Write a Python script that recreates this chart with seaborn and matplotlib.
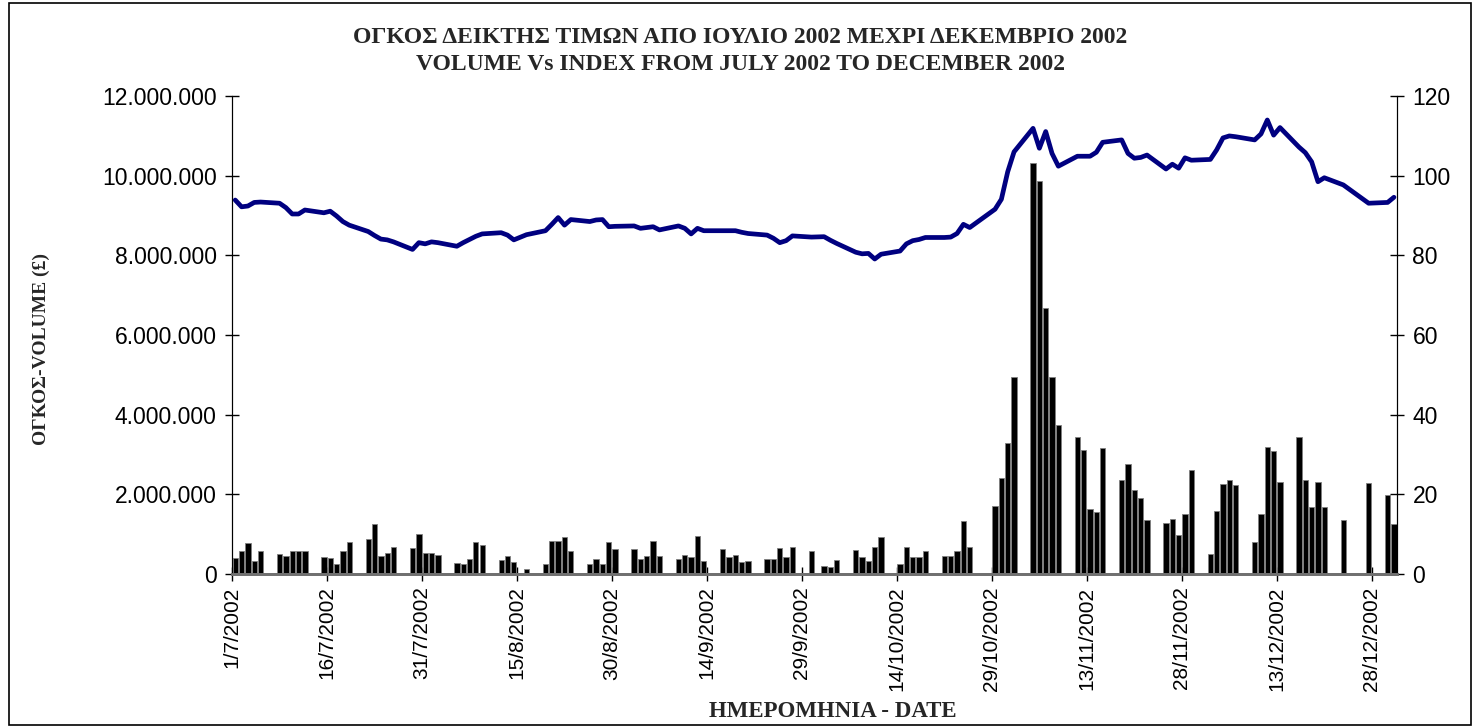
import matplotlib
matplotlib.use("Agg")
import matplotlib.pyplot as plt
import numpy as np
import pandas as pd
import seaborn as sns
from matplotlib.patches import Rectangle

TITLE_GR = "ΟΓΚΟΣ ΔΕΙΚΤΗΣ ΤΙΜΩΝ ΑΠΟ ΙΟΥΛΙΟ 2002 ΜΕΧΡΙ ΔΕΚΕΜΒΡΙΟ 2002"
TITLE_EN = "VOLUME Vs INDEX FROM JULY 2002 TO DECEMBER 2002"
Y_LABEL = "ΟΓΚΟΣ-VOLUME (£)"
X_LABEL = "ΗΜΕΡΟΜΗΝΙΑ - DATE"

# trading days (day/month, 2002)
dates = [
    "1/7", "2/7", "3/7", "4/7", "5/7", "8/7", "9/7", "10/7", "11/7", "12/7",
    "15/7", "16/7", "17/7", "18/7", "19/7", "22/7", "23/7", "24/7", "25/7", "26/7",
    "29/7", "30/7", "31/7", "1/8", "2/8", "5/8", "6/8", "7/8", "8/8", "9/8",
    "12/8", "13/8", "14/8", "16/8", "19/8", "20/8", "21/8", "22/8", "23/8",
    "26/8", "27/8", "28/8", "29/8", "30/8", "2/9", "3/9", "4/9", "5/9", "6/9",
    "9/9", "10/9", "11/9", "12/9", "13/9", "16/9", "17/9", "18/9", "19/9", "20/9",
    "23/9", "24/9", "25/9", "26/9", "27/9", "30/9", "2/10", "3/10", "4/10",
    "7/10", "8/10", "9/10", "10/10", "11/10", "14/10", "15/10", "16/10", "17/10", "18/10",
    "21/10", "22/10", "23/10", "24/10", "25/10", "29/10", "30/10", "31/10", "1/11",
    "4/11", "5/11", "6/11", "7/11", "8/11", "11/11", "12/11", "13/11", "14/11", "15/11",
    "18/11", "19/11", "20/11", "21/11", "22/11", "25/11", "26/11", "27/11", "28/11", "29/11",
    "2/12", "3/12", "4/12", "5/12", "6/12", "9/12", "10/12", "11/12", "12/12", "13/12",
    "16/12", "17/12", "18/12", "19/12", "20/12", "23/12", "27/12", "30/12", "31/12",
]

# volume in millions
volume_m = [
    0.39, 0.585, 0.77, 0.32, 0.585, 0.50, 0.445, 0.585, 0.585, 0.585,
    0.435, 0.41, 0.24, 0.585, 0.80, 0.87, 1.25, 0.45, 0.535, 0.68,
    0.66, 1.00, 0.52, 0.52, 0.47, 0.275, 0.26, 0.385, 0.80, 0.72,
    0.35, 0.445, 0.30, 0.13, 0.25, 0.83, 0.84, 0.92, 0.585,
    0.25, 0.37, 0.25, 0.80, 0.635, 0.62, 0.375, 0.445, 0.82, 0.445,
    0.37, 0.47, 0.42, 0.96, 0.33, 0.635, 0.42, 0.47, 0.30, 0.335,
    0.37, 0.37, 0.66, 0.435, 0.67, 0.58, 0.21, 0.17, 0.35,
    0.615, 0.435, 0.33, 0.68, 0.93, 0.24, 0.68, 0.435, 0.435, 0.585,
    0.445, 0.445, 0.58, 1.32, 0.67, 1.72, 2.41, 3.28, 4.94,
    10.33, 9.88, 6.67, 4.94, 3.73, 3.45, 3.105, 1.63, 1.55, 3.16,
    2.35, 2.77, 2.11, 1.90, 1.355, 1.28, 1.39, 0.97, 1.51, 2.61,
    0.50, 1.57, 2.27, 2.35, 2.235, 0.795, 1.50, 3.18, 3.09, 2.31,
    3.45, 2.35, 1.69, 2.30, 1.675, 1.355, 2.28, 1.98, 1.25,
]

index_vals = [
    93.9, 92.2, 92.4, 93.3, 93.4, 93.1, 92.0, 90.4, 90.4, 91.4,
    90.7, 91.1, 89.9, 88.5, 87.6, 86.0, 85.0, 84.1, 83.9, 83.4,
    81.5, 83.2, 82.9, 83.4, 83.2, 82.3, 83.2, 84.0, 84.8, 85.4,
    85.7, 85.1, 83.9, 85.2, 86.2, 87.8, 89.5, 87.6, 89.0,
    88.5, 88.9, 89.0, 87.2, 87.3, 87.4, 86.8, 87.0, 87.2, 86.4,
    87.4, 86.8, 85.4, 86.8, 86.2, 86.2, 86.2, 86.2, 85.8, 85.5,
    85.1, 84.3, 83.2, 83.7, 84.9, 84.6, 84.7, 83.8, 83.0,
    80.8, 80.4, 80.5, 79.1, 80.3, 81.1, 82.9, 83.7, 84.0, 84.5,
    84.5, 84.6, 85.5, 87.8, 87.0, 91.6, 94.1, 101.0, 106.0,
    111.9, 106.9, 111.1, 105.6, 102.4, 104.9, 104.9, 104.9, 105.9, 108.4,
    109.0, 105.6, 104.4, 104.6, 105.2, 101.7, 102.9, 101.9, 104.5, 103.9,
    104.1, 106.5, 109.5, 110.0, 109.8, 109.0, 110.5, 114.0, 110.2, 112.1,
    107.2, 105.8, 103.5, 98.5, 99.5, 97.7, 93.1, 93.3, 94.6,
]

start = pd.Timestamp("2002-07-01")
end = pd.Timestamp("2003-01-01")
tick_dates = pd.date_range(start, end, freq="15D")

df = pd.DataFrame({
    "date": pd.to_datetime([d + "/2002" for d in dates], format="%d/%m/%Y"),
    "volume": np.array(volume_m) * 1e6,
    "index": index_vals,
})
# day number from 1 July, bar centred in its day slot
df["day"] = (df["date"] - start).dt.days + 0.5

sns.set_style("white")
plt.rcParams["font.family"] = ["Liberation Sans", "DejaVu Sans"]

fig = plt.figure(figsize=(14.8, 7.28), dpi=100)
ax = fig.add_axes([0.1568, 0.2115, 0.7872, 0.6565])

sns.barplot(data=df, x="day", y="volume", native_scale=True, width=0.84,
            color="black", edgecolor="#808080", linewidth=0.6,
            errorbar=None, ax=ax)

ax2 = ax.twinx()
sns.lineplot(data=df, x="day", y="index", color="#000080", linewidth=3.4,
             ax=ax2)

span = (end - start).days
ax.set_xlim(0, span)
ax.set_ylim(0, 12_000_000)
ax2.set_ylim(0, 120)

ax.set_yticks(np.arange(0, 12_000_001, 2_000_000))
ax.set_yticklabels([f"{v:,.0f}".replace(",", ".") for v in ax.get_yticks()],
                   fontsize=16.5)
ax2.set_yticks(np.arange(0, 121, 20))
ax2.set_yticklabels([str(int(v)) for v in ax2.get_yticks()], fontsize=16.5)

tick_pos = [(t - start).days for t in tick_dates if t < end]
tick_lab = [f"{t.day}/{t.month}/{t.year}" for t in tick_dates if t < end]
ax.set_xticks(tick_pos)
ax.set_xticklabels(tick_lab, rotation=90, fontsize=15)

ax.set_xlabel("")
ax.set_ylabel("")
ax2.set_xlabel("")
ax2.set_ylabel("")

for a in (ax, ax2):
    a.tick_params(direction="inout", length=10, width=1, colors="black",
                  pad=6)
    a.spines["top"].set_visible(False)
    a.spines["left"].set_color("black")
    a.spines["right"].set_color("black")
    a.spines["bottom"].set_color("#707070")
    a.spines["bottom"].set_linewidth(2)
ax.tick_params(axis="x", length=10, pad=4)
ax.tick_params(left=True, bottom=True)
ax2.tick_params(right=True)

serif = ["Liberation Serif", "DejaVu Serif"]
fig.text(0.5, 0.948, TITLE_GR, ha="center", va="center", fontsize=17,
         fontweight="bold", family=serif)
fig.text(0.5, 0.911, TITLE_EN, ha="center", va="center", fontsize=17,
         fontweight="bold", family=serif)
fig.text(0.563, 0.022, X_LABEL, ha="center", va="center", fontsize=16.5,
         fontweight="bold", family=serif)
fig.text(0.028, 0.52, Y_LABEL, ha="center", va="center", rotation=90,
         fontsize=14, fontweight="bold", family=serif)

fig.patches.append(Rectangle((0.006, 0.004), 0.988, 0.992, transform=fig.transFigure,
                             fill=False, edgecolor="black", linewidth=1.2))

fig.savefig("out.png", dpi=100)
